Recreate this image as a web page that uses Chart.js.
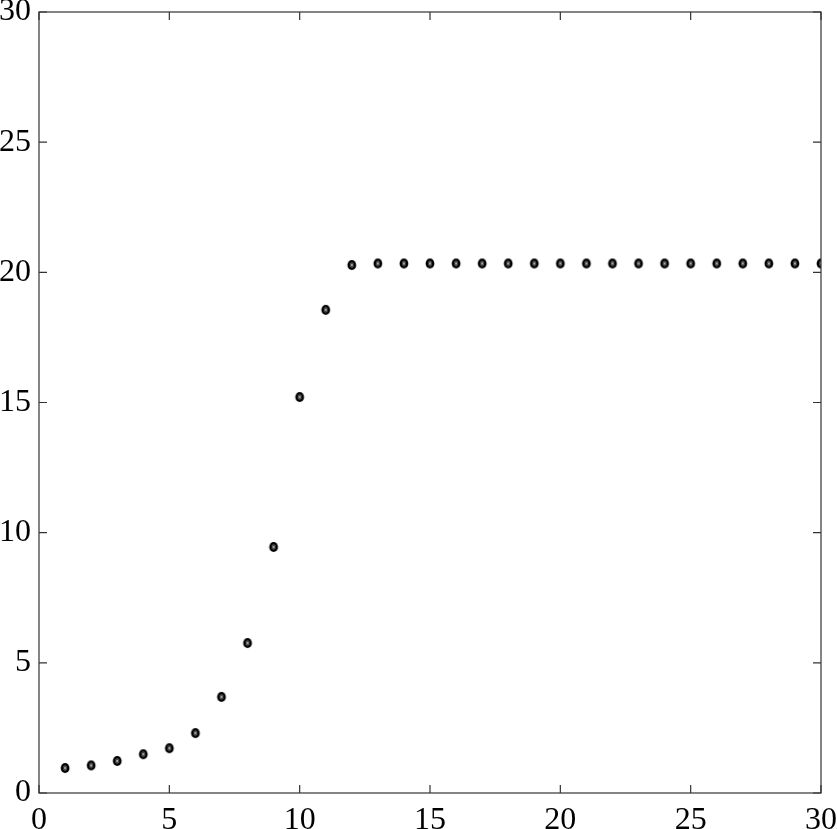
<!DOCTYPE html>
<html><head><meta charset="utf-8">
<script src="https://cdn.jsdelivr.net/npm/chart.js@4"></script>
<style>html,body{margin:0;padding:0;background:#fff}#wrap{width:837px;height:829px}</style>
</head><body><div id="wrap"><canvas id="c"></canvas></div>
<script>
const xValues = [1,2,3,4,5,6,7,8,9,10,11,12,13,14,15,16,17,18,19,20,21,22,23,24,25,26,27,28,29,30];
const yValues = [0.96,1.06,1.23,1.49,1.72,2.30,3.69,5.76,9.45,15.21,18.56,20.28,20.34,20.34,20.34,20.34,20.34,20.34,20.34,20.34,20.34,20.34,20.34,20.34,20.34,20.34,20.34,20.34,20.34,20.34];
const xTicks = [0,5,10,15,20,25,30];
const yTicks = [0,5,10,15,20,25,30];

const mk = document.createElement('canvas');
mk.width = 12; mk.height = 12;
(function(){
  const g = mk.getContext('2d');
  g.beginPath(); g.ellipse(6,6,4.4,5.1,0,0,Math.PI*2);
  g.fillStyle = '#000'; g.fill();
  g.strokeStyle = '#fff'; g.lineWidth = 0.55;
  for (let a = 0; a < 3; a++) {
    const ang = a*Math.PI/3 + Math.PI/2;
    g.beginPath();
    g.moveTo(6+Math.cos(ang)*2.3, 6+Math.sin(ang)*2.9);
    g.lineTo(6-Math.cos(ang)*2.3, 6-Math.sin(ang)*2.9);
    g.stroke();
  }
})();

const frame = {
  id: 'frame',
  afterDraw(chart) {
    const {ctx, chartArea: a, scales} = chart;
    ctx.save();
    ctx.strokeStyle = '#333'; ctx.lineWidth = 1.2;
    ctx.strokeRect(a.left, a.top, a.right - a.left, a.bottom - a.top);
    const L = 8;
    ctx.beginPath();
    xTicks.forEach(v => {
      const px = scales.x.getPixelForValue(v);
      ctx.moveTo(px, a.bottom); ctx.lineTo(px, a.bottom - L);
      ctx.moveTo(px, a.top); ctx.lineTo(px, a.top + L);
    });
    yTicks.forEach(v => {
      const py = scales.y.getPixelForValue(v);
      ctx.moveTo(a.left, py); ctx.lineTo(a.left + L, py);
      ctx.moveTo(a.right, py); ctx.lineTo(a.right - L, py);
    });
    ctx.stroke();
    ctx.restore();
  }
};

const zeroPad = s => { s.paddingLeft = 0; s.paddingRight = 0; s.paddingTop = 0; s.paddingBottom = 0; };
const font = {family: '"Liberation Serif", "Times New Roman", serif', size: 32, lineHeight: 0.75};
new Chart(document.getElementById('c'), {
  type: 'scatter',
  data: { datasets: [{
    data: xValues.map((x, i) => ({x, y: yValues[i]})),
    pointStyle: mk, pointRadius: 6, pointHoverRadius: 6
  }]},
  options: {
    responsive: true, maintainAspectRatio: false, animation: false,
    layout: {padding: {top: 12, right: 16, left: 0, bottom: 0}},
    plugins: {legend: {display: false}, tooltip: {enabled: false}},
    scales: {
      x: {
        type: 'linear', min: 0, max: 30,
        afterBuildTicks: s => { s.ticks = xTicks.map(v => ({value: v})); },
        afterFit: s => { s.height = 36; zeroPad(s); },
        grid: {display: false, drawTicks: false}, border: {display: false},
        ticks: {font, color: '#000', padding: 16, maxRotation: 0}
      },
      y: {
        type: 'linear', min: 0, max: 30,
        afterBuildTicks: s => { s.ticks = yTicks.map(v => ({value: v})); },
        afterFit: s => { s.width = 39; zeroPad(s); },
        grid: {display: false, drawTicks: false}, border: {display: false},
        ticks: {font, color: '#000', padding: 8}
      }
    }
  },
  plugins: [frame]
});
</script></body></html>
